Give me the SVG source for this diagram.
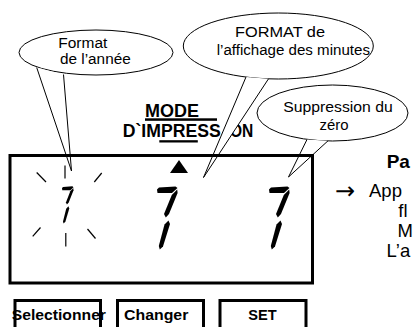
<svg xmlns="http://www.w3.org/2000/svg" width="413" height="327" viewBox="0 0 413 327">
<style>
text{font-family:"Liberation Sans",Arial,sans-serif;fill:#000}
.c{font-size:14px}
.b{font-weight:bold}
.r{font-size:18.5px}
.bub{fill:#fff;stroke:#000;stroke-width:1}
.ptr{fill:#fff;stroke:none}
.leg{fill:none;stroke:#000;stroke-width:1}
.tick{stroke:#000;stroke-width:1.2;fill:none}
.frame{fill:none;stroke:#000;stroke-width:3}
</style>
<defs>
<g id="digit">
<polygon points="0,3.5 2,1.5 18.5,0.5 20.5,2 15,7 0.5,7"/>
<polygon points="20.2,3.5 20.6,7 12,28 8.8,31.5 7,28 14.8,9"/>
<polygon points="11.5,34.5 13,38 6,60.5 2.8,63.5 1.8,60 7.5,38.5"/>
</g>
</defs>
<g id="title">
<text class="b" x="145" y="116.5" font-size="17.5" textLength="54" lengthAdjust="spacingAndGlyphs">MODE</text>
<rect x="145" y="118.3" width="72" height="2.5"/>
<text class="b" y="136.7" font-size="17.5"><tspan x="122.7" textLength="98" lengthAdjust="spacingAndGlyphs">D`IMPRESS</tspan><tspan x="226">I</tspan><tspan x="230" textLength="23.3" lengthAdjust="spacingAndGlyphs">ON</tspan></text>
<rect x="159.3" y="140.2" width="38.5" height="2.3"/>
</g>
<g id="callout-annee">
<ellipse class="bub" cx="96" cy="52.5" rx="77" ry="22.5"/>
<polygon class="ptr" points="36.7,67.5 71.5,171 63.5,74.5"/>
<polyline class="leg" points="36.7,67.5 71.5,171 63.5,74.5"/>
<text class="c" x="58.3" y="48" textLength="49" lengthAdjust="spacingAndGlyphs">Format</text>
<text class="c" x="60" y="64.3" textLength="70.7" lengthAdjust="spacingAndGlyphs">de l’année</text>
</g>
<g id="callout-minutes">
<ellipse class="bub" cx="278.3" cy="46" rx="95" ry="33"/>
<polygon class="ptr" points="246,77 203.5,177.5 268.5,78.8"/>
<polyline class="leg" points="246,77 203.5,177.5 268.5,78.8"/>
<text class="c" x="235" y="36.7" textLength="90" lengthAdjust="spacingAndGlyphs">FORMAT de</text>
<text class="c" x="216.7" y="55" textLength="153.3" lengthAdjust="spacingAndGlyphs">l’affichage des minutes</text>
</g>
<g id="callout-zero">
<ellipse class="bub" cx="332.5" cy="113" rx="75.5" ry="28"/>
<polygon class="ptr" points="307,139.5 288.5,177 328,140.8"/>
<polyline class="leg" points="307,139.5 288.5,177 328,140.8"/>
<text class="c" x="283.3" y="111.7" textLength="109.5" lengthAdjust="spacingAndGlyphs">Suppression du</text>
<text class="c" x="319.5" y="130" textLength="29" lengthAdjust="spacingAndGlyphs">zéro</text>
</g>
<g id="display">
<rect class="frame" x="10" y="155.5" width="302.5" height="127.5"/>
<polygon points="170,173 188,173 179,160"/>
<use href="#digit" transform="translate(62,186) scale(0.56,0.59)"/>
<use href="#digit" transform="translate(157,186)"/>
<use href="#digit" transform="translate(269,186)"/>
<line class="tick" x1="36.7" y1="172.5" x2="46" y2="182"/>
<line class="tick" x1="65" y1="165.5" x2="65" y2="178.5"/>
<line class="tick" x1="94.3" y1="182" x2="101.7" y2="173"/>
<line class="tick" x1="32.7" y1="236.3" x2="40.5" y2="227.5"/>
<line class="tick" x1="65.8" y1="233" x2="65.8" y2="246.5"/>
<line class="tick" x1="87.5" y1="229" x2="95.5" y2="238.5"/>
</g>
<g id="btn-selectionner">
<rect class="frame" x="15" y="300.5" width="85.5" height="40"/>
<text class="b" x="11.7" y="319.5" font-size="15.5" textLength="94.3" lengthAdjust="spacingAndGlyphs">Selectionner</text>
</g>
<g id="btn-changer">
<rect class="frame" x="117.5" y="300.5" width="86" height="40"/>
<text class="b" x="124" y="319.5" font-size="15.5" textLength="64.3" lengthAdjust="spacingAndGlyphs">Changer</text>
</g>
<g id="btn-set">
<rect class="frame" x="220" y="300.5" width="86" height="40"/>
<text class="b" x="248.3" y="319.5" font-size="15.5" textLength="28.4" lengthAdjust="spacingAndGlyphs">SET</text>
</g>
<g id="side-text">
<text class="b" x="386.7" y="168.3" font-size="19">Pa</text>
<text x="335" y="198.5" font-size="24" style="font-family:'DejaVu Sans',sans-serif">→</text>
<text class="r" x="369" y="196.5">App</text>
<text class="r" x="398.3" y="216.5">fl</text>
<text class="r" x="397.5" y="236.5">M</text>
<text class="r" x="386.5" y="256.5">L’a</text>
</g>
</svg>
